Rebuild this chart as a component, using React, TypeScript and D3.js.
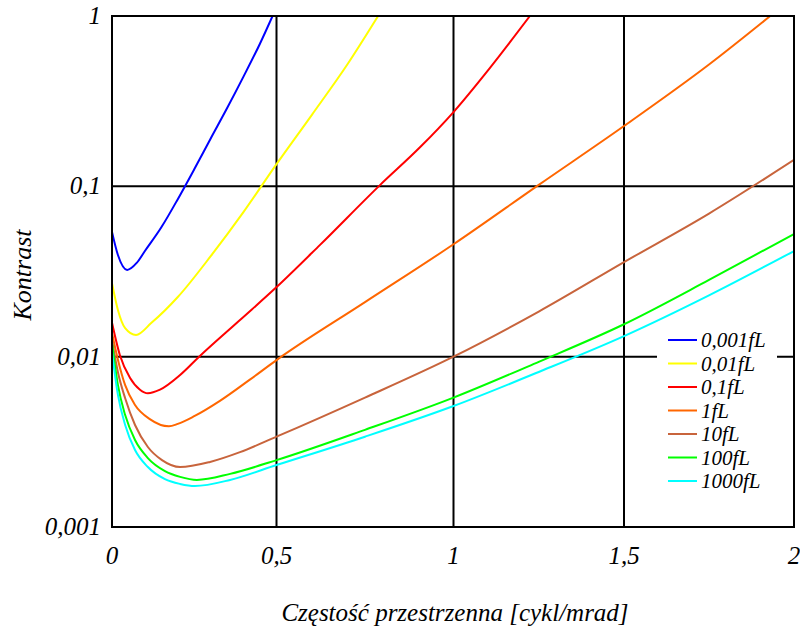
import React from 'react'
import * as d3 from 'd3'

type Pt = [number, number]

// luminance levels and their curves: [spatial frequency, contrast]
const seriesNames = ['0,001fL', '0,01fL', '0,1fL', '1fL', '10fL', '100fL', '1000fL']
const seriesColors = ['#0000ff', '#ffff00', '#ff0000', '#ff6600', '#c8643c', '#00ff00', '#00ffff']

const fL0001: Pt[] = [
  [0, 0.054], [0.018, 0.0395], [0.046, 0.0323], [0.075, 0.0355], [0.1, 0.0417],
  [0.15, 0.0575], [0.2, 0.0841], [0.25, 0.126], [0.3, 0.191], [0.35, 0.288],
  [0.4, 0.442], [0.45, 0.69], [0.488, 1],
]
const fL001: Pt[] = [
  [0, 0.027], [0.018, 0.0188], [0.04, 0.0147], [0.073, 0.0134], [0.12, 0.0158],
  [0.2, 0.0224], [0.3, 0.0389], [0.4, 0.0708], [0.5, 0.135], [0.6, 0.263],
  [0.7, 0.519], [0.787, 1],
]
const fL01: Pt[] = [
  [0, 0.0158], [0.024, 0.0102], [0.055, 0.0075], [0.085, 0.0064], [0.109, 0.0061],
  [0.146, 0.0064], [0.207, 0.0078], [0.264, 0.00995], [0.389, 0.0164], [0.501, 0.0257],
  [0.623, 0.0453], [0.793, 0.102], [0.906, 0.17], [1.0, 0.273], [1.107, 0.496], [1.224, 1],
]
const fL1: Pt[] = [
  [0, 0.0138], [0.018, 0.0096], [0.04, 0.0068], [0.07, 0.0052], [0.115, 0.0043],
  [0.173, 0.0039], [0.2, 0.00403], [0.25, 0.00447], [0.328, 0.0055], [0.419, 0.00733],
  [0.5, 0.00955], [0.75, 0.0209], [1.0, 0.0457], [1.25, 0.102], [1.5, 0.226],
  [1.75, 0.519], [1.93, 1],
]
const fL10: Pt[] = [
  [0, 0.0125], [0.018, 0.0081], [0.04, 0.0057], [0.07, 0.00397], [0.109, 0.00295],
  [0.152, 0.00247], [0.207, 0.00225], [0.298, 0.00241], [0.389, 0.00275], [0.5, 0.00339],
  [0.75, 0.00575], [1.0, 0.01], [1.25, 0.0184], [1.5, 0.0359], [1.75, 0.0692], [2.0, 0.143],
]
const fL100: Pt[] = [
  [0, 0.012], [0.018, 0.0068], [0.04, 0.00454], [0.07, 0.00324], [0.109, 0.00254],
  [0.161, 0.00213], [0.207, 0.00197], [0.258, 0.00189], [0.359, 0.00205], [0.5, 0.00247],
  [0.75, 0.00372], [1.0, 0.00575], [1.25, 0.00933], [1.5, 0.0155], [1.75, 0.0282],
  [2.0, 0.0525],
]
const fL1000: Pt[] = [
  [0, 0.01064], [0.018, 0.00596], [0.04, 0.00397], [0.07, 0.00283], [0.109, 0.00225],
  [0.161, 0.00191], [0.207, 0.00179], [0.252, 0.00174], [0.359, 0.00189], [0.5, 0.00231],
  [0.75, 0.00339], [1.0, 0.00513], [1.25, 0.00813], [1.5, 0.0132], [1.75, 0.0229],
  [2.0, 0.0417],
]
const allSeries = [fL0001, fL001, fL01, fL1, fL10, fL100, fL1000]

const xTicks = [0, 0.5, 1, 1.5, 2]
const xTickLabels = ['0', '0,5', '1', '1,5', '2']
const yTicks = [1, 0.1, 0.01, 0.001]
const yTickLabels = ['1', '0,1', '0,01', '0,001']

const textStyle: React.CSSProperties = {
  fontFamily: "'Liberation Serif', 'Times New Roman', 'DejaVu Serif', serif",
  fontStyle: 'italic',
}

const App: React.FunctionComponent = () => {
  const width = 800
  const height = 635

  // the original grid is not quite evenly spaced, so map each tick
  const x = d3.scaleLinear().domain(xTicks).range([112, 276.5, 453.5, 624, 794])
  const y = d3.scaleLog().domain([0.001, 1]).range([527, 16])

  const line = d3
    .line<Pt>()
    .x(d => x(d[0]))
    .y(d => y(d[1]))
    .curve(d3.curveMonotoneX)

  const legendX = 668
  const legendY = 340
  const legendStep = 23.5

  return (
    <svg width={width} height={height} style={{ position: 'absolute', left: 0, top: 0 }}>
      <rect width={width} height={height} fill="#fff" />
      <defs>
        <clipPath id="plot">
          <rect x={112} y={16} width={682} height={511} />
        </clipPath>
      </defs>

      {/* grid */}
      {xTicks.slice(1, -1).map(t => (
        <line key={'gx' + t} x1={x(t)} x2={x(t)} y1={16} y2={527} stroke="#000" strokeWidth={2} />
      ))}
      {yTicks.slice(1, -1).map(t => (
        <line key={'gy' + t} x1={112} x2={794} y1={y(t)} y2={y(t)} stroke="#000" strokeWidth={2} />
      ))}

      <g clipPath="url(#plot)">
        {allSeries.map((s, i) => (
          <path key={seriesNames[i]} d={line(s) || ''} fill="none" stroke={seriesColors[i]} strokeWidth={2} />
        ))}
      </g>

      <rect x={112} y={16} width={682} height={511} fill="none" stroke="#000" strokeWidth={2} />

      {/* legend */}
      <rect x={657} y={330} width={120} height={160} fill="#fff" />
      {seriesNames.map((n, i) => (
        <g key={'lg' + n} transform={`translate(${legendX},${legendY + i * legendStep})`}>
          <line x1={0} x2={29} y1={0} y2={0} stroke={seriesColors[i]} strokeWidth={2} />
          <text x={33} y={0} dy="0.35em" fontSize={21} style={textStyle}>
            {n}
          </text>
        </g>
      ))}

      {/* tick labels */}
      {yTicks.map((t, i) => (
        <text key={'yl' + t} x={101} y={y(t)} dy="0.32em" textAnchor="end" fontSize={25} style={textStyle}>
          {yTickLabels[i]}
        </text>
      ))}
      {xTicks.map((t, i) => (
        <text key={'xl' + t} x={x(t)} y={564} textAnchor="middle" fontSize={25} style={textStyle}>
          {xTickLabels[i]}
        </text>
      ))}

      <text x={455} y={621} textAnchor="middle" fontSize={25} style={textStyle}>
        Częstość przestrzenna [cykl/mrad]
      </text>
      <text transform="translate(31,275) rotate(-90)" textAnchor="middle" fontSize={26} style={textStyle}>
        Kontrast
      </text>
    </svg>
  )
}

export default App
